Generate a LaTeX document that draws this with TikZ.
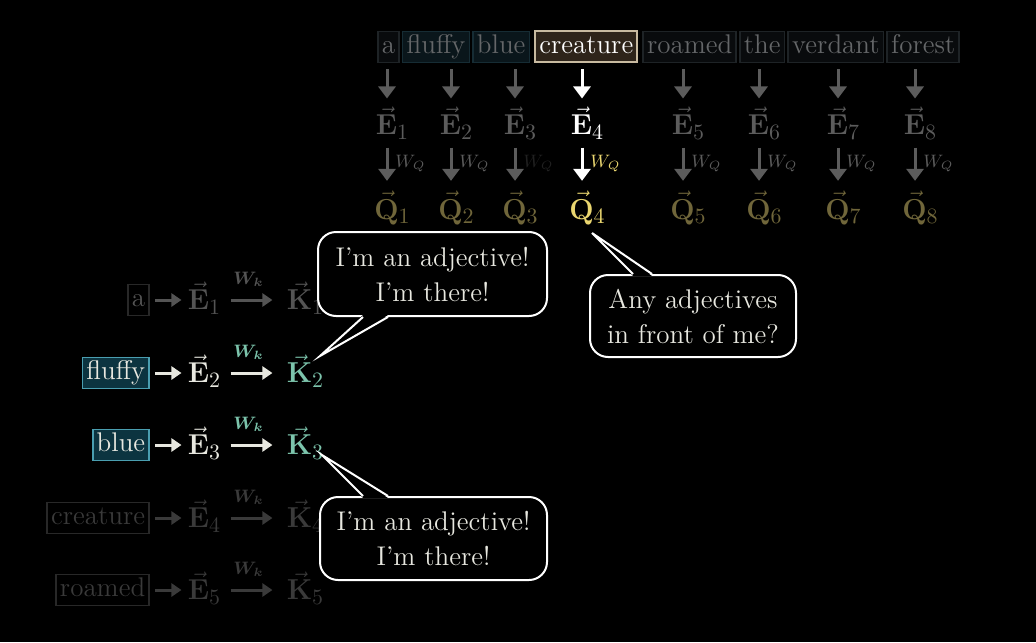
\documentclass[tikz,border=0pt]{standalone}
\usepackage{amsmath}
\usepackage{mathtools}
\usetikzlibrary{positioning,arrows.meta}
\definecolor{dimgray}{RGB}{92, 92, 92}
\definecolor{wordgray}{RGB}{100, 102, 104}
\definecolor{boxline}{RGB}{30, 35, 38}
\definecolor{boxfill}{RGB}{9, 11, 13}
\definecolor{tealdark}{RGB}{10, 22, 27}
\definecolor{tealdim}{RGB}{22, 44, 52}
\definecolor{tealfill}{RGB}{12, 52, 64}
\definecolor{tealline}{RGB}{74, 158, 176}
\definecolor{tealk}{RGB}{124, 196, 172}
\definecolor{offwhite}{RGB}{232, 232, 224}
\definecolor{brownfill}{RGB}{46, 36, 26}
\definecolor{brownline}{RGB}{200, 186, 160}
\definecolor{qdim}{RGB}{112, 102, 58}
\definecolor{qbright}{RGB}{234, 214, 112}
\definecolor{rowdim}{RGB}{84, 84, 84}
\definecolor{rowfaint}{RGB}{58, 58, 58}
\definecolor{lineoff}{RGB}{40, 40, 40}

\begin{document}
\begin{tikzpicture}[x=0.5pt, y=-0.5pt,
                    word/.style={draw=boxline, fill=boxfill, text=wordgray, line width=0.8pt, inner xsep=2pt, inner ysep=1pt, text height=10pt, text depth=3.5pt, font=\fontsize{13.5}{16}\selectfont},
                    vecnode/.style={inner sep=2pt, font=\fontsize{15.5}{18}\selectfont},
                    wlabel/.style={inner sep=1pt, font=\fontsize{9}{10}\selectfont},
                    arrtop/.style={line width=1.5pt, -{Triangle[length=6pt,width=8.5pt]}},
                    wordarr/.style={arrtop, shorten <=3pt, shorten >=2pt},
                    qarr/.style={arrtop, shorten <=2pt, shorten >=3pt},
                    arrleft/.style={line width=1.5pt, -{Triangle[length=5pt,width=6.5pt]}},
                    bubble/.style={draw=white, fill=black, line width=1pt, rounded corners=9pt, align=center, text=offwhite, inner sep=0pt, font=\fontsize{13.5}{17.5}\selectfont}]
                    \fill[black] (0,0) rectangle (1036,642);

                    \node[word, anchor=west] (w1) at (377,47) {a};
                    \node[word, fill=tealdark, draw=tealdim, right=1pt of w1] (w2) {fluffy};
                    \node[word, fill=tealdark, draw=tealdim, right=1pt of w2] (w3) {blue};
                    \node[word, fill=brownfill, draw=brownline, text=white, line width=1pt, right=2pt of w3] (w4) {creature};
                    \node[word, right=2pt of w4] (w5) {roamed};
                    \node[word, right=1pt of w5] (w6) {the};
                    \node[word, right=1pt of w6] (w7) {verdant};
                    \node[word, right=1pt of w7] (w8) {forest};

                    \node[vecnode, text=dimgray] (e1) at (387,123) {$\vec{\mathbf{E}}_{\mathrlap{1}}$};
                    \node[vecnode, text=dimgray] (e2) at (451,123) {$\vec{\mathbf{E}}_{\mathrlap{2}}$};
                    \node[vecnode, text=dimgray] (e3) at (515,123) {$\vec{\mathbf{E}}_{\mathrlap{3}}$};
                    \node[vecnode, text=white] (e4) at (582,123) {$\vec{\mathbf{E}}_{\mathrlap{4}}$};
                    \node[vecnode, text=dimgray] (e5) at (683,123) {$\vec{\mathbf{E}}_{\mathrlap{5}}$};
                    \node[vecnode, text=dimgray] (e6) at (759,123) {$\vec{\mathbf{E}}_{\mathrlap{6}}$};
                    \node[vecnode, text=dimgray] (e7) at (838,123) {$\vec{\mathbf{E}}_{\mathrlap{7}}$};
                    \node[vecnode, text=dimgray] (e8) at (915,123) {$\vec{\mathbf{E}}_{\mathrlap{8}}$};

                    \node[vecnode, text=qdim] (q1) at (387,208) {$\vec{\mathbf{Q}}_{\mathrlap{1}}$};
                    \node[vecnode, text=qdim] (q2) at (451,208) {$\vec{\mathbf{Q}}_{\mathrlap{2}}$};
                    \node[vecnode, text=qdim] (q3) at (515,208) {$\vec{\mathbf{Q}}_{\mathrlap{3}}$};
                    \node[vecnode, text=qbright] (q4) at (582,208) {$\vec{\mathbf{Q}}_{\mathrlap{4}}$};
                    \node[vecnode, text=qdim] (q5) at (683,208) {$\vec{\mathbf{Q}}_{\mathrlap{5}}$};
                    \node[vecnode, text=qdim] (q6) at (759,208) {$\vec{\mathbf{Q}}_{\mathrlap{6}}$};
                    \node[vecnode, text=qdim] (q7) at (838,208) {$\vec{\mathbf{Q}}_{\mathrlap{7}}$};
                    \node[vecnode, text=qdim] (q8) at (915,208) {$\vec{\mathbf{Q}}_{\mathrlap{8}}$};

                    \draw[wordarr, dimgray] (w1.south -| e1.north) -- (e1.north);
                    \draw[wordarr, dimgray] (w2.south -| e2.north) -- (e2.north);
                    \draw[wordarr, dimgray] (w3.south -| e3.north) -- (e3.north);
                    \draw[wordarr, white] (w4.south -| e4.north) -- (e4.north);
                    \draw[wordarr, dimgray] (w5.south -| e5.north) -- (e5.north);
                    \draw[wordarr, dimgray] (w6.south -| e6.north) -- (e6.north);
                    \draw[wordarr, dimgray] (w7.south -| e7.north) -- (e7.north);
                    \draw[wordarr, dimgray] (w8.south -| e8.north) -- (e8.north);

                    \draw[qarr, dimgray] (e1.south) -- (q1.north);
                    \draw[qarr, dimgray] (e2.south) -- (q2.north);
                    \draw[qarr, dimgray] (e3.south) -- (q3.north);
                    \draw[qarr, white] (e4.south) -- (q4.north);
                    \draw[qarr, dimgray] (e5.south) -- (q5.north);
                    \draw[qarr, dimgray] (e6.south) -- (q6.north);
                    \draw[qarr, dimgray] (e7.south) -- (q7.north);
                    \draw[qarr, dimgray] (e8.south) -- (q8.north);

                    \node[wlabel, text=dimgray, anchor=west] (l1) at (393,164) {$W_Q$};
                    \node[wlabel, text=dimgray, anchor=west] (l2) at (457,164) {$W_Q$};
                    \node[wlabel, text=dimgray, opacity=0.35, anchor=west] (l3) at (521,164) {$W_Q$};
                    \node[wlabel, text=qbright, anchor=west] (l4) at (588,164) {$W_Q$};
                    \node[wlabel, text=dimgray, anchor=west] (l5) at (689,164) {$W_Q$};
                    \node[wlabel, text=dimgray, anchor=west] (l6) at (765,164) {$W_Q$};
                    \node[wlabel, text=dimgray, anchor=west] (l7) at (844,164) {$W_Q$};
                    \node[wlabel, text=dimgray, anchor=west] (l8) at (921,164) {$W_Q$};

                    \node[word, anchor=east, fill=black, draw=lineoff, text=rowdim] (a1) at (150,300) {a};
                    \node[word, anchor=east, fill=tealfill, draw=tealline, text=offwhite] (a2) at (150,373) {fluffy};
                    \node[word, anchor=east, fill=tealfill, draw=tealline, text=offwhite] (a3) at (150,445) {blue};
                    \node[word, anchor=east, fill=black, draw=lineoff, text=rowfaint] (a4) at (150,518) {creature};
                    \node[word, anchor=east, fill=black, draw=lineoff, text=rowfaint] (a5) at (150,590) {roamed};

                    \node[vecnode, text=rowdim] (le1) at (199,298) {$\vec{\mathbf{E}}_{\mathrlap{1}}$};
                    \node[vecnode, text=offwhite] (le2) at (199,371) {$\vec{\mathbf{E}}_{\mathrlap{2}}$};
                    \node[vecnode, text=offwhite] (le3) at (199,443) {$\vec{\mathbf{E}}_{\mathrlap{3}}$};
                    \node[vecnode, text=rowfaint] (le4) at (199,516) {$\vec{\mathbf{E}}_{\mathrlap{4}}$};
                    \node[vecnode, text=rowfaint] (le5) at (199,588) {$\vec{\mathbf{E}}_{\mathrlap{5}}$};

                    \node[vecnode, text=rowdim] (lk1) at (300,298) {$\vec{\mathbf{K}}_{\mathrlap{1}}$};
                    \node[vecnode, text=tealk] (lk2) at (300,371) {$\vec{\mathbf{K}}_{\mathrlap{2}}$};
                    \node[vecnode, text=tealk] (lk3) at (300,443) {$\vec{\mathbf{K}}_{\mathrlap{3}}$};
                    \node[vecnode, text=rowfaint] (lk4) at (300,516) {$\vec{\mathbf{K}}_{\mathrlap{4}}$};
                    \node[vecnode, text=rowfaint] (lk5) at (300,588) {$\vec{\mathbf{K}}_{\mathrlap{5}}$};

                    \draw[arrleft, rowdim, shorten <=2.5pt, shorten >=1pt] (a1.east) -- (a1.east -| le1.west);
                    \draw[arrleft, offwhite, shorten <=2.5pt, shorten >=1pt] (a2.east) -- (a2.east -| le2.west);
                    \draw[arrleft, offwhite, shorten <=2.5pt, shorten >=1pt] (a3.east) -- (a3.east -| le3.west);
                    \draw[arrleft, rowfaint, shorten <=2.5pt, shorten >=1pt] (a4.east) -- (a4.east -| le4.west);
                    \draw[arrleft, rowfaint, shorten <=2.5pt, shorten >=1pt] (a5.east) -- (a5.east -| le5.west);

                    \draw[arrleft, rowdim, shorten <=8pt, shorten >=5pt] (a1.east -| le1.east) -- (a1.east -| lk1.west) node[midway, above=5pt, wlabel, text=rowdim] (wk1) {$\boldsymbol{W_k}$};
                    \draw[arrleft, offwhite, shorten <=8pt, shorten >=5pt] (a2.east -| le2.east) -- (a2.east -| lk2.west) node[midway, above=5pt, wlabel, text=tealk] (wk2) {$\boldsymbol{W_k}$};
                    \draw[arrleft, offwhite, shorten <=8pt, shorten >=5pt] (a3.east -| le3.east) -- (a3.east -| lk3.west) node[midway, above=5pt, wlabel, text=tealk] (wk3) {$\boldsymbol{W_k}$};
                    \draw[arrleft, rowfaint, shorten <=8pt, shorten >=5pt] (a4.east -| le4.east) -- (a4.east -| lk4.west) node[midway, above=5pt, wlabel, text=rowfaint] (wk4) {$\boldsymbol{W_k}$};
                    \draw[arrleft, rowfaint, shorten <=8pt, shorten >=5pt] (a5.east -| le5.east) -- (a5.east -| lk5.west) node[midway, above=5pt, wlabel, text=rowfaint] (wk5) {$\boldsymbol{W_k}$};

                    \node[bubble, minimum width=114.5pt, minimum height=42pt] (b1) at (432.5,274) {I'm an adjective!\\I'm there!};
                    \node[bubble, minimum width=103pt, minimum height=41pt] (b2) at (693,316) {Any adjectives\\in front of me?};
                    \node[bubble, minimum width=113.5pt, minimum height=41.5pt] (b3) at (433.5,538.5) {I'm an adjective!\\I'm there!};

                    \coordinate (t1) at (320,356);
                    \coordinate (t2) at (592,233);
                    \coordinate (t3) at (322,455);
                    \fill[black] ([xshift=-34.75pt,yshift=1pt]b1.south) -- (t1) -- ([xshift=-22.25pt,yshift=1pt]b1.south) -- cycle;
                    \draw[white, line width=1pt] ([xshift=-34.75pt]b1.south) -- (t1) -- ([xshift=-22.25pt]b1.south);
                    \fill[black] ([xshift=-30pt,yshift=-1pt]b2.north) -- (t2) -- ([xshift=-20.5pt,yshift=-1pt]b2.north) -- cycle;
                    \draw[white, line width=1pt] ([xshift=-30pt]b2.north) -- (t2) -- ([xshift=-20.5pt]b2.north);
                    \fill[black] ([xshift=-35.25pt,yshift=-1pt]b3.north) -- (t3) -- ([xshift=-22.75pt,yshift=-1pt]b3.north) -- cycle;
                    \draw[white, line width=1pt] ([xshift=-35.25pt]b3.north) -- (t3) -- ([xshift=-22.75pt]b3.north);
                \end{tikzpicture}
\end{document}
